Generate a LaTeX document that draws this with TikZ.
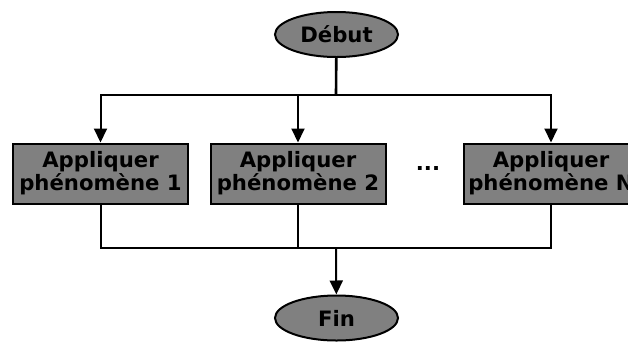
\documentclass[tikz,border=0pt]{standalone}
\usepackage{fontspec}
\setmainfont{DejaVu Sans}
\usetikzlibrary{shapes.geometric,arrows.meta}

\begin{document}
\begin{tikzpicture}[x=0.5pt,y=-0.5pt]


\tikzset{Terminal/.style = {ellipse, draw=black, line width=1pt, fill=gray,
            minimum width=61.5pt, minimum height=22.5pt, inner sep=0pt,
            font=\fontsize{10.6}{11.5}\selectfont\bfseries}}
\tikzset{Phenomene/.style = {rectangle, draw=black, line width=1pt, fill=gray,
            minimum width=87.5pt, minimum height=30pt, inner sep=0pt, align=center,
            font=\fontsize{10.6}{11.5}\selectfont\bfseries}}
\tikzset{Lien/.style = {line width=1pt, black}}
\tikzset{Fleche/.style = {Lien, -{Stealth[length=7pt,width=6.5pt,inset=0pt]}}}

\useasboundingbox (0,0) rectangle (628,344);

\node[Terminal] (debut) at (336.5,34.5) {Début};
\node[Phenomene] (app1) at (100.5,173.5) {Appliquer\\phénomène 1};
\node[Phenomene] (app2) at (298,173.5) {Appliquer\\phénomène 2};
\node[font=\fontsize{10.6}{11.5}\selectfont\bfseries] (dots) at (428,168) {...};
\node[Phenomene] (appN) at (551,173.5) {Appliquer\\phénomène N};
\node[Terminal] (fin) at (336.5,318) {Fin};

\coordinate (split) at (336,94.5);
\coordinate (join) at (336,248);

\draw[Lien, line width=1.3pt] (debut) -- (split);
\draw[Fleche] (split) -| (app1);
\draw[Fleche] (split) -| (app2);
\draw[Fleche] (split) -| (appN);

\draw[Lien] (app1) |- (join);
\draw[Lien] (app2) |- (join);
\draw[Lien] (appN) |- (join);
\draw[Fleche] (join) -- (fin);

\end{tikzpicture}
\end{document}
